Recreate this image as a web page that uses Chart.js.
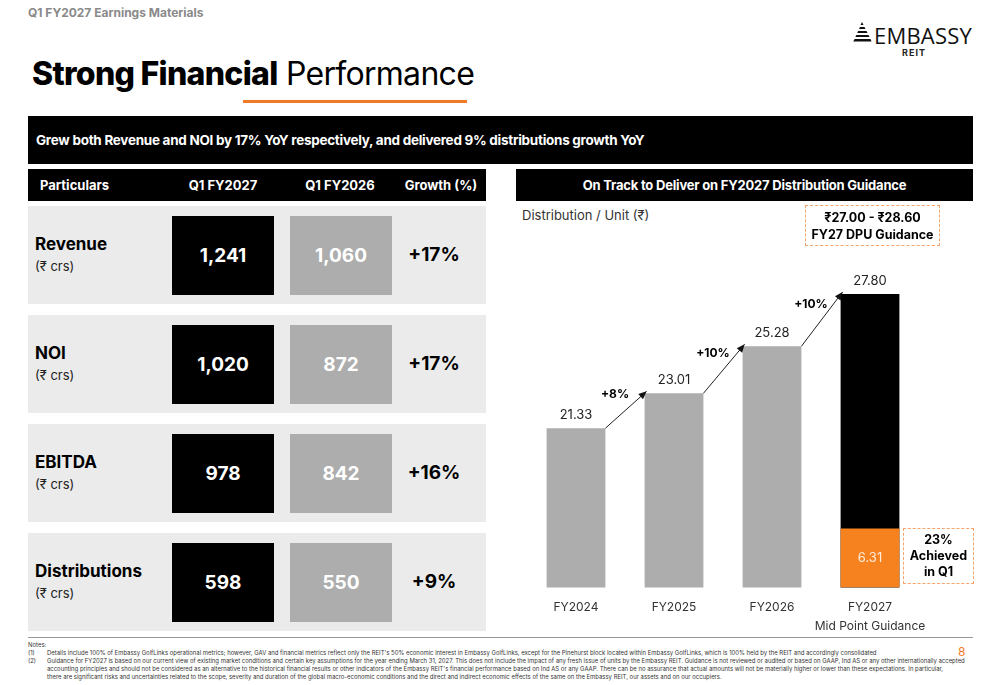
<!DOCTYPE html>
<html>
<head>
<meta charset="utf-8">
<script src="https://cdn.jsdelivr.net/npm/chart.js@4.4.1/dist/chart.umd.min.js"></script>
<style>
  html, body { margin:0; padding:0; background:#fff; }
  body { width:1000px; height:685px; position:relative; overflow:hidden; font-family: Inter, "Open Sans", "Noto Sans", sans-serif; color:#000; }
  .abs { position:absolute; }
  .kicker { left:28px; top:5px; font-size:12px; font-weight:700; color:#8a8a8a; }
  .title { left:32px; top:54px; font-size:32px; letter-spacing:-0.7px; white-space:nowrap; }
  .title b { font-weight:800; }
  .uline { left:243px; top:100px; width:224px; height:3px; background:#F07A28; }
  .banner { left:28px; top:116px; width:945px; height:48px; background:#000; color:#fff; font-size:13.5px; font-weight:700; line-height:48px; padding-left:8px; box-sizing:border-box; letter-spacing:-0.28px; white-space:nowrap; }
  .thead { left:28px; top:169px; width:458px; height:32px; background:#000; color:#fff; font-size:13px; font-weight:700; }
  .thead span { position:absolute; top:0; line-height:32px; white-space:nowrap; }
  .rhead { left:516px; top:169px; width:457px; height:32px; background:#000; color:#fff; font-size:13px; font-weight:700; line-height:32px; text-align:center; letter-spacing:-0.2px; }
  .panel { left:28px; width:458px; height:98px; background:#EBEBEB; }
  .plabel { position:absolute; left:7px; top:28px; font-size:17px; font-weight:700; }
  .punit { position:absolute; left:7px; top:52px; font-size:13px; color:#222; }
  .box { position:absolute; top:10px; width:102px; height:79px; color:#fff; font-size:19px; font-weight:700; text-align:center; line-height:79px; }
  .growth { position:absolute; left:375px; width:62px; top:0; line-height:98px; text-align:center; font-size:19px; font-weight:700; }
  .dash { border:1.5px dashed #F7A36A; box-sizing:border-box; text-align:center; font-weight:700; font-size:12.5px; line-height:17px; color:#000; }
  .ylab { left:522px; top:207px; font-size:13px; color:#333; }
  .footline { left:28px; top:637px; width:945px; height:1px; background:#999; }
  .notes { left:28px; top:641px; font-size:5.95px; line-height:8.1px; color:#333; white-space:nowrap; }
  .notes .n { display:inline-block; width:19px; }
  .notes .ind { padding-left:19px; }
  .pnum { left:958px; top:644px; font-size:12px; color:#F07A28; }
  .logo { left:852px; top:21px; }
  .logotext { left:874px; top:20px; font-size:22px; letter-spacing:0.2px; font-weight:400; color:#111; font-family: "Open Sans", Inter, sans-serif; }
  .reit { left:902px; top:47px; font-size:9px; font-weight:700; letter-spacing:1px; color:#222; }
  #chart { left:516px; top:201px; }
</style>
</head>
<body>
<div class="abs kicker">Q1 FY2027 Earnings Materials</div>
<svg class="abs logo" width="20" height="22" viewBox="0 0 20 22">
  <polygon points="10,1 11.5,4 8.5,4" fill="#111"/>
  <polygon points="8,6 12.5,6 13.5,8 7,8" fill="#111"/>
  <polygon points="6.2,10 14.5,10 15.5,12 5.2,12" fill="#111"/>
  <polygon points="4.4,14 16.5,14 17.5,16 3.4,16" fill="#111"/>
  <polygon points="2.6,18 18.5,18 19.5,20.5 1.2,20.5" fill="#111"/>
</svg>
<div class="abs logotext">EMBASSY</div>
<div class="abs reit">REIT</div>
<div class="abs title"><b>Strong Financial</b> Performance</div>
<div class="abs uline"></div>
<div class="abs banner">Grew both Revenue and NOI by 17% YoY respectively, and delivered 9% distributions growth YoY</div>

<div class="abs thead" id="thead"></div>
<div id="tableRows"></div>

<div class="abs rhead">On Track to Deliver on FY2027 Distribution Guidance</div>
<div class="abs ylab">Distribution / Unit (₹)</div>

<div class="abs footline"></div>
<div class="abs notes">Notes:<br>
<span class="n">(1)</span>Details include 100% of Embassy GolfLinks operational metrics; however, GAV and financial metrics reflect only the REIT's 50% economic interest in Embassy GolfLinks, except for the Pinehurst block located within Embassy GolfLinks, which is 100% held by the REIT and accordingly consolidated<br>
<span class="n">(2)</span>Guidance for FY2027 is based on our current view of existing market conditions and certain key assumptions for the year ending March 31, 2027. This does not include the impact of any fresh issue of units by the Embassy REIT. Guidance is not reviewed or audited or based on GAAP, Ind AS or any other internationally accepted<br>
<span class="ind">accounting principles and should not be considered as an alternative to the historical financial results or other indicators of the Embassy REIT's financial performance based on Ind AS or any GAAP. There can be no assurance that actual amounts will not be materially higher or lower than these expectations. In particular,</span><br>
<span class="ind">there are significant risks and uncertainties related to the scope, severity and duration of the global macro-economic conditions and the direct and indirect economic effects of the same on the Embassy REIT, our assets and on our occupiers.</span>
</div>
<div class="abs pnum">8</div>

<canvas id="chart" class="abs" width="457" height="448"></canvas>
<div class="abs dash" style="left:805px; top:205px; width:135px; height:41px; padding-top:3px;">₹27.00 - ₹28.60<br>FY27 DPU Guidance</div>
<div class="abs dash" style="left:903px; top:528px; width:71px; height:56px; padding-top:3px; font-size:12.5px; line-height:16px;">23%<br>Achieved<br>in Q1</div>

<script>
// ---- Table data ----
const tableHeaders = ['Particulars', 'Q1 FY2027', 'Q1 FY2026', 'Growth (%)'];
const particulars = ['Revenue', 'NOI', 'EBITDA', 'Distributions'];
const unitLabel = '(₹ crs)';
const q1FY2027 = [1241, 1020, 978, 598];
const q1FY2026 = [1060, 872, 842, 550];
const growthYoY = ['+17%', '+17%', '+16%', '+9%'];

// ---- Chart data ----
const categories = ['FY2024', 'FY2025', 'FY2026', ['FY2027', 'Mid Point Guidance']];
const dpu = [21.33, 23.01, 25.28, 27.80];
const q1Achieved = [null, null, null, 6.31];
const growthLabels = ['+8%', '+10%', '+10%'];

// Build table header
const thead = document.getElementById('thead');
const headPos = [{left:12}, {center:195}, {center:312}, {center:413}];
tableHeaders.forEach((h, i) => {
  const s = document.createElement('span');
  s.textContent = h;
  if (headPos[i].left !== undefined) s.style.left = headPos[i].left + 'px';
  else { s.style.left = (headPos[i].center - 60) + 'px'; s.style.width = '120px'; s.style.textAlign = 'center'; }
  thead.appendChild(s);
});

// Build table rows
const rowsEl = document.getElementById('tableRows');
const fmt = v => v.toLocaleString('en-US');
particulars.forEach((p, i) => {
  const panel = document.createElement('div');
  panel.className = 'abs panel';
  panel.style.top = (206 + i * 109) + 'px';
  panel.innerHTML =
    '<div class="plabel">' + p + '</div>' +
    '<div class="punit">' + unitLabel + '</div>' +
    '<div class="box" style="left:144px;background:#000;">' + fmt(q1FY2027[i]) + '</div>' +
    '<div class="box" style="left:262px;background:#ADADAD;">' + fmt(q1FY2026[i]) + '</div>' +
    '<div class="growth">' + growthYoY[i] + '</div>';
  rowsEl.appendChild(panel);
});

// ---- Chart ----
const FONT = 'Inter, "Open Sans", "Noto Sans", sans-serif';
const barColors = ['#ADADAD', '#ADADAD', '#ADADAD', '#000000'];

const annotatePlugin = {
  id: 'annotate',
  afterDatasetsDraw(chart) {
    const ctx = chart.ctx;
    const main = chart.getDatasetMeta(1).data;
    const q1 = chart.getDatasetMeta(0).data;
    ctx.save();
    ctx.textAlign = 'center';
    ctx.textBaseline = 'middle';
    // value labels
    ctx.font = '13px ' + FONT;
    ctx.fillStyle = '#222';
    main.forEach((bar, i) => {
      ctx.fillText(dpu[i].toFixed(2), bar.x, bar.y - 13);
    });
    // arrows + growth labels
    for (let i = 0; i < main.length - 1; i++) {
      const a = main[i], b = main[i + 1];
      const x1 = a.x + a.width / 2, y1 = a.y;
      const x2 = b.x - b.width / 2 + 2, y2 = b.y - 2;
      ctx.strokeStyle = '#222';
      ctx.lineWidth = 1;
      ctx.beginPath();
      ctx.moveTo(x1, y1);
      ctx.lineTo(x2, y2);
      ctx.stroke();
      const ang = Math.atan2(y2 - y1, x2 - x1);
      const L = 8, W = 3.5;
      ctx.fillStyle = '#111';
      ctx.beginPath();
      ctx.moveTo(x2, y2);
      ctx.lineTo(x2 - L * Math.cos(ang) + W * Math.sin(ang), y2 - L * Math.sin(ang) - W * Math.cos(ang));
      ctx.lineTo(x2 - L * Math.cos(ang) - W * Math.sin(ang), y2 - L * Math.sin(ang) + W * Math.cos(ang));
      ctx.closePath();
      ctx.fill();
      ctx.font = 'bold 12px ' + FONT;
      ctx.fillStyle = '#000';
      ctx.fillText(growthLabels[i], (x1 + x2) / 2 - 11, (y1 + y2) / 2 - 15);
    }
    // Q1 achieved label
    q1.forEach((bar, i) => {
      if (q1Achieved[i] == null) return;
      ctx.font = '13px ' + FONT;
      ctx.fillStyle = 'rgba(255,240,225,0.95)';
      ctx.fillText(q1Achieved[i].toFixed(2), bar.x, (bar.y + bar.base) / 2);
    });
    ctx.restore();
  }
};

new Chart(document.getElementById('chart'), {
  type: 'bar',
  data: {
    labels: categories,
    datasets: [
      { label: 'Q1 achieved', data: q1Achieved, backgroundColor: '#F5821F', yAxisID: 'y2', order: 0,
        barPercentage: 0.6, categoryPercentage: 1, grouped: false },
      { label: 'DPU', data: dpu, backgroundColor: barColors, yAxisID: 'y', order: 1,
        barPercentage: 0.6, categoryPercentage: 1, grouped: false }
    ]
  },
  options: {
    responsive: false,
    animation: false,
    devicePixelRatio: 1,
    layout: { padding: { left: 11, right: 54, top: 39, bottom: 3 } },
    plugins: { legend: { display: false }, tooltip: { enabled: false } },
    scales: {
      x: {
        grid: { display: false, drawTicks: false },
        border: { display: false },
        ticks: { color: '#333', font: { family: FONT, size: 12, lineHeight: 1.6 }, padding: 10, maxRotation: 0, autoSkip: false }
      },
      y: { display: false, min: 13.65, max: 30.4 },
      y2: { display: false, min: 0, max: 37.1 }
    }
  },
  plugins: [annotatePlugin]
});
</script>
</body>
</html>
